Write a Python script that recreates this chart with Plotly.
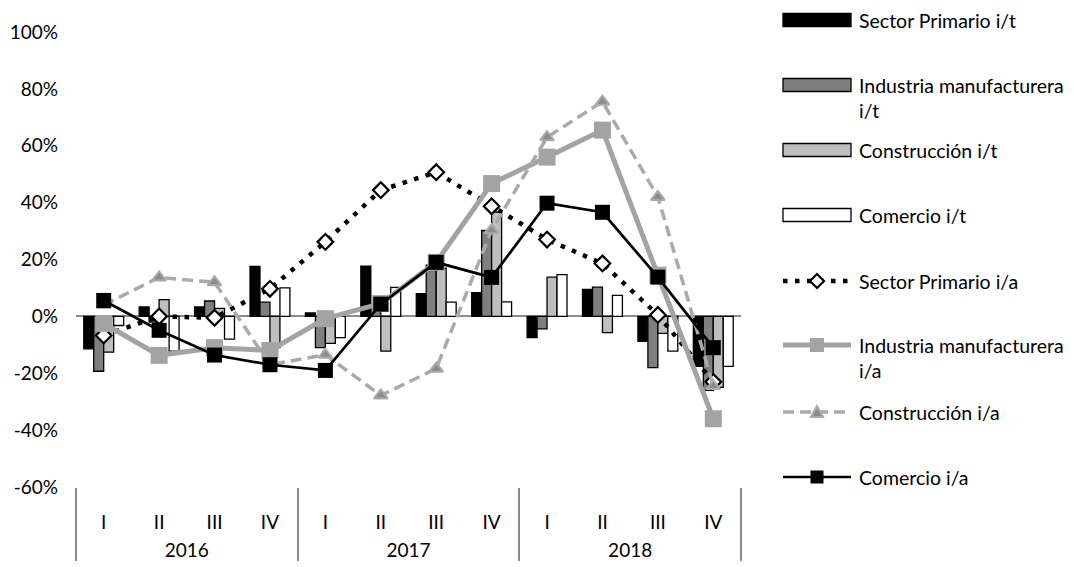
import plotly.graph_objects as go

# Quarterly growth rates (%), 2016-2018
years = ["2016"] * 4 + ["2017"] * 4 + ["2018"] * 4
quarters = ["I", "II", "III", "IV"] * 3

# Quarter-on-quarter (i/t) — bars
primario_it = [-11.4, 3.3, 3.3, 17.6, 1.2, 17.7, 8.0, 8.3, -7.5, 9.5, -8.8, -17.6]
industria_it = [-19.3, -2.0, 5.4, 5.0, -11.0, 3.0, 18.0, 30.2, -4.4, 10.3, -18.0, -26.0]
construccion_it = [-12.6, 5.9, 2.8, -11.0, -9.5, -12.2, 17.0, 36.7, 13.8, -5.7, -6.0, -25.0]
comercio_it = [-3.2, -12.2, -8.0, 10.0, -7.5, 10.2, 5.0, 5.1, 14.7, 7.4, -12.2, -17.6]

# Year-on-year (i/a) — lines
primario_ia = [-6.7, 0.0, -0.5, 9.7, 26.2, 44.4, 50.7, 38.7, 27.0, 18.6, 0.5, -23.0]
industria_ia = [-2.5, -13.7, -11.0, -12.0, -0.8, 4.5, 19.0, 46.7, 56.0, 65.5, 14.5, -36.0]
construccion_ia = [4.0, 13.7, 12.0, -17.0, -13.5, -27.8, -18.4, 30.3, 63.0, 75.5, 42.0, -24.5]
comercio_ia = [5.6, -4.9, -13.6, -17.0, -19.0, 4.3, 19.0, 13.7, 39.8, 36.6, 13.8, -11.0]

y_ticks = [-60, -40, -20, 0, 20, 40, 60, 80, 100]

FONT = "Lato"
FS = 19.5
W, H = 1074, 567
L, R, T, B = 76, 741, 32, 487  # plot area in pixels

# Two-level category axis; the leading break drops the year row lower
x = [["<br>" + y for y in years], quarters]
fig = go.Figure()

bar_series = [
    ("Sector Primario i/t", primario_it, "#000000"),
    ("Industria manufacturera i/t", industria_it, "#7f7f7f"),
    ("Construcción i/t", construccion_it, "#bfbfbf"),
    ("Comercio i/t", comercio_it, "#ffffff"),
]
for name, vals, col in bar_series:
    fig.add_trace(go.Bar(
        x=x, y=vals, name=name, showlegend=False,
        marker=dict(color=col, line=dict(color="#000000", width=1.3)),
    ))

fig.add_trace(go.Scatter(
    x=x, y=primario_ia, name="Sector Primario i/a", mode="lines+markers",
    showlegend=False,
    line=dict(color="#000000", width=4.5, dash="4.5px,7.5px"),
    marker=dict(symbol="diamond", size=12, color="#ffffff",
                line=dict(color="#000000", width=2.2)),
))
fig.add_trace(go.Scatter(
    x=x, y=industria_ia, name="Industria manufacturera i/a", mode="lines+markers",
    showlegend=False,
    line=dict(color="#a3a3a3", width=5),
    marker=dict(symbol="square", size=17, color="#a3a3a3"),
))
fig.add_trace(go.Scatter(
    x=x, y=construccion_ia, name="Construcción i/a", mode="lines+markers",
    showlegend=False,
    line=dict(color="#aaaaaa", width=3.5, dash="11px,6px"),
    marker=dict(symbol="triangle-up", size=12, color="#8c8c8c",
                line=dict(color="#aaaaaa", width=2)),
))
fig.add_trace(go.Scatter(
    x=x, y=comercio_ia, name="Comercio i/a", mode="lines+markers",
    showlegend=False,
    line=dict(color="#000000", width=2.7),
    marker=dict(symbol="square", size=15, color="#000000"),
))


def px(X):
    return (X - L) / (R - L)


def py(Y):
    return (B - Y) / (B - T)


# Legend drawn beside the plot
sym_x0, sym_x1, sym_xc, text_x = 783, 851, 817, 857
rows = [
    ("bar", "Sector Primario i/t", "#000000", 20),
    ("bar", "Industria manufacturera<br>i/t", "#7f7f7f", 85),
    ("bar", "Construcción i/t", "#bfbfbf", 150),
    ("bar", "Comercio i/t", "#ffffff", 215),
    ("dot", "Sector Primario i/a", None, 281),
    ("ind", "Industria manufacturera<br>i/a", None, 345),
    ("con", "Construcción i/a", None, 412),
    ("com", "Comercio i/a", None, 477),
]
shapes = []
annotations = []
for kind, label, col, yc in rows:
    if kind == "bar":
        shapes.append(dict(type="rect", xref="paper", yref="paper",
                           x0=px(sym_x0), x1=px(sym_x1),
                           y0=py(yc - 6.5), y1=py(yc + 6.5),
                           fillcolor=col, line=dict(color="#000000", width=1.3)))
    else:
        if kind == "dot":
            ln = dict(color="#000000", width=4.5, dash="4.5px,7.5px")
        elif kind == "ind":
            ln = dict(color="#a3a3a3", width=5)
        elif kind == "con":
            ln = dict(color="#aaaaaa", width=3.5, dash="11px,6px")
        else:
            ln = dict(color="#000000", width=2.7)
        shapes.append(dict(type="line", xref="paper", yref="paper",
                           x0=px(sym_x0), x1=px(sym_x1), y0=py(yc), y1=py(yc),
                           line=ln))
        common = dict(xref="paper", yref="paper", xsizemode="pixel",
                      ysizemode="pixel", xanchor=px(sym_xc), yanchor=py(yc))
        if kind == "dot":
            shapes.append(dict(type="path", path="M0,-7L7,0L0,7L-7,0Z",
                               fillcolor="#ffffff",
                               line=dict(color="#000000", width=2.2), **common))
        elif kind == "ind":
            shapes.append(dict(type="rect", x0=-7, x1=7, y0=-7, y1=7,
                               fillcolor="#a3a3a3", line=dict(width=0), **common))
        elif kind == "con":
            shapes.append(dict(type="path", path="M-6,-5L6,-5L0,6Z",
                               fillcolor="#8c8c8c",
                               line=dict(color="#aaaaaa", width=2), **common))
        else:
            shapes.append(dict(type="rect", x0=-6.5, x1=6.5, y0=-6.5, y1=6.5,
                               fillcolor="#000000", line=dict(width=0), **common))
    two_lines = "<br>" in label
    annotations.append(dict(
        text=label, xref="paper", yref="paper", x=px(text_x),
        y=py(yc + 13) if two_lines else py(yc),
        xanchor="left", yanchor="middle", align="left", showarrow=False,
        font=dict(family=FONT, size=FS, color="#000000"),
    ))

fig.update_layout(
    width=W, height=H,
    margin=dict(l=L, r=W - R, t=T, b=H - B, pad=0, autoexpand=False),
    paper_bgcolor="#ffffff", plot_bgcolor="#ffffff",
    barmode="group", bargap=0.28, bargroupgap=0,
    font=dict(family=FONT, size=FS, color="#000000"),
    showlegend=False,
    shapes=shapes, annotations=annotations,
)
fig.update_yaxes(
    range=[-60, 100], tickvals=y_ticks, ticktext=[f"{v}%" for v in y_ticks],
    showgrid=False, zeroline=True, zerolinecolor="#8c8c8c", zerolinewidth=1.5,
    showline=False, ticks="", ticklabelstandoff=17, automargin=False,
    tickfont=dict(family=FONT, size=19, color="#000000"),
)
fig.update_xaxes(
    type="multicategory", range=[-0.5, 11.5], autorange=False,
    showgrid=False, showline=False, ticks="", ticklabelstandoff=22,
    automargin=False,
    showdividers=True, dividercolor="#8c8c8c", dividerwidth=1.5,
    tickfont=dict(family=FONT, size=19, color="#000000"),
)

fig.write_html("out.html")
